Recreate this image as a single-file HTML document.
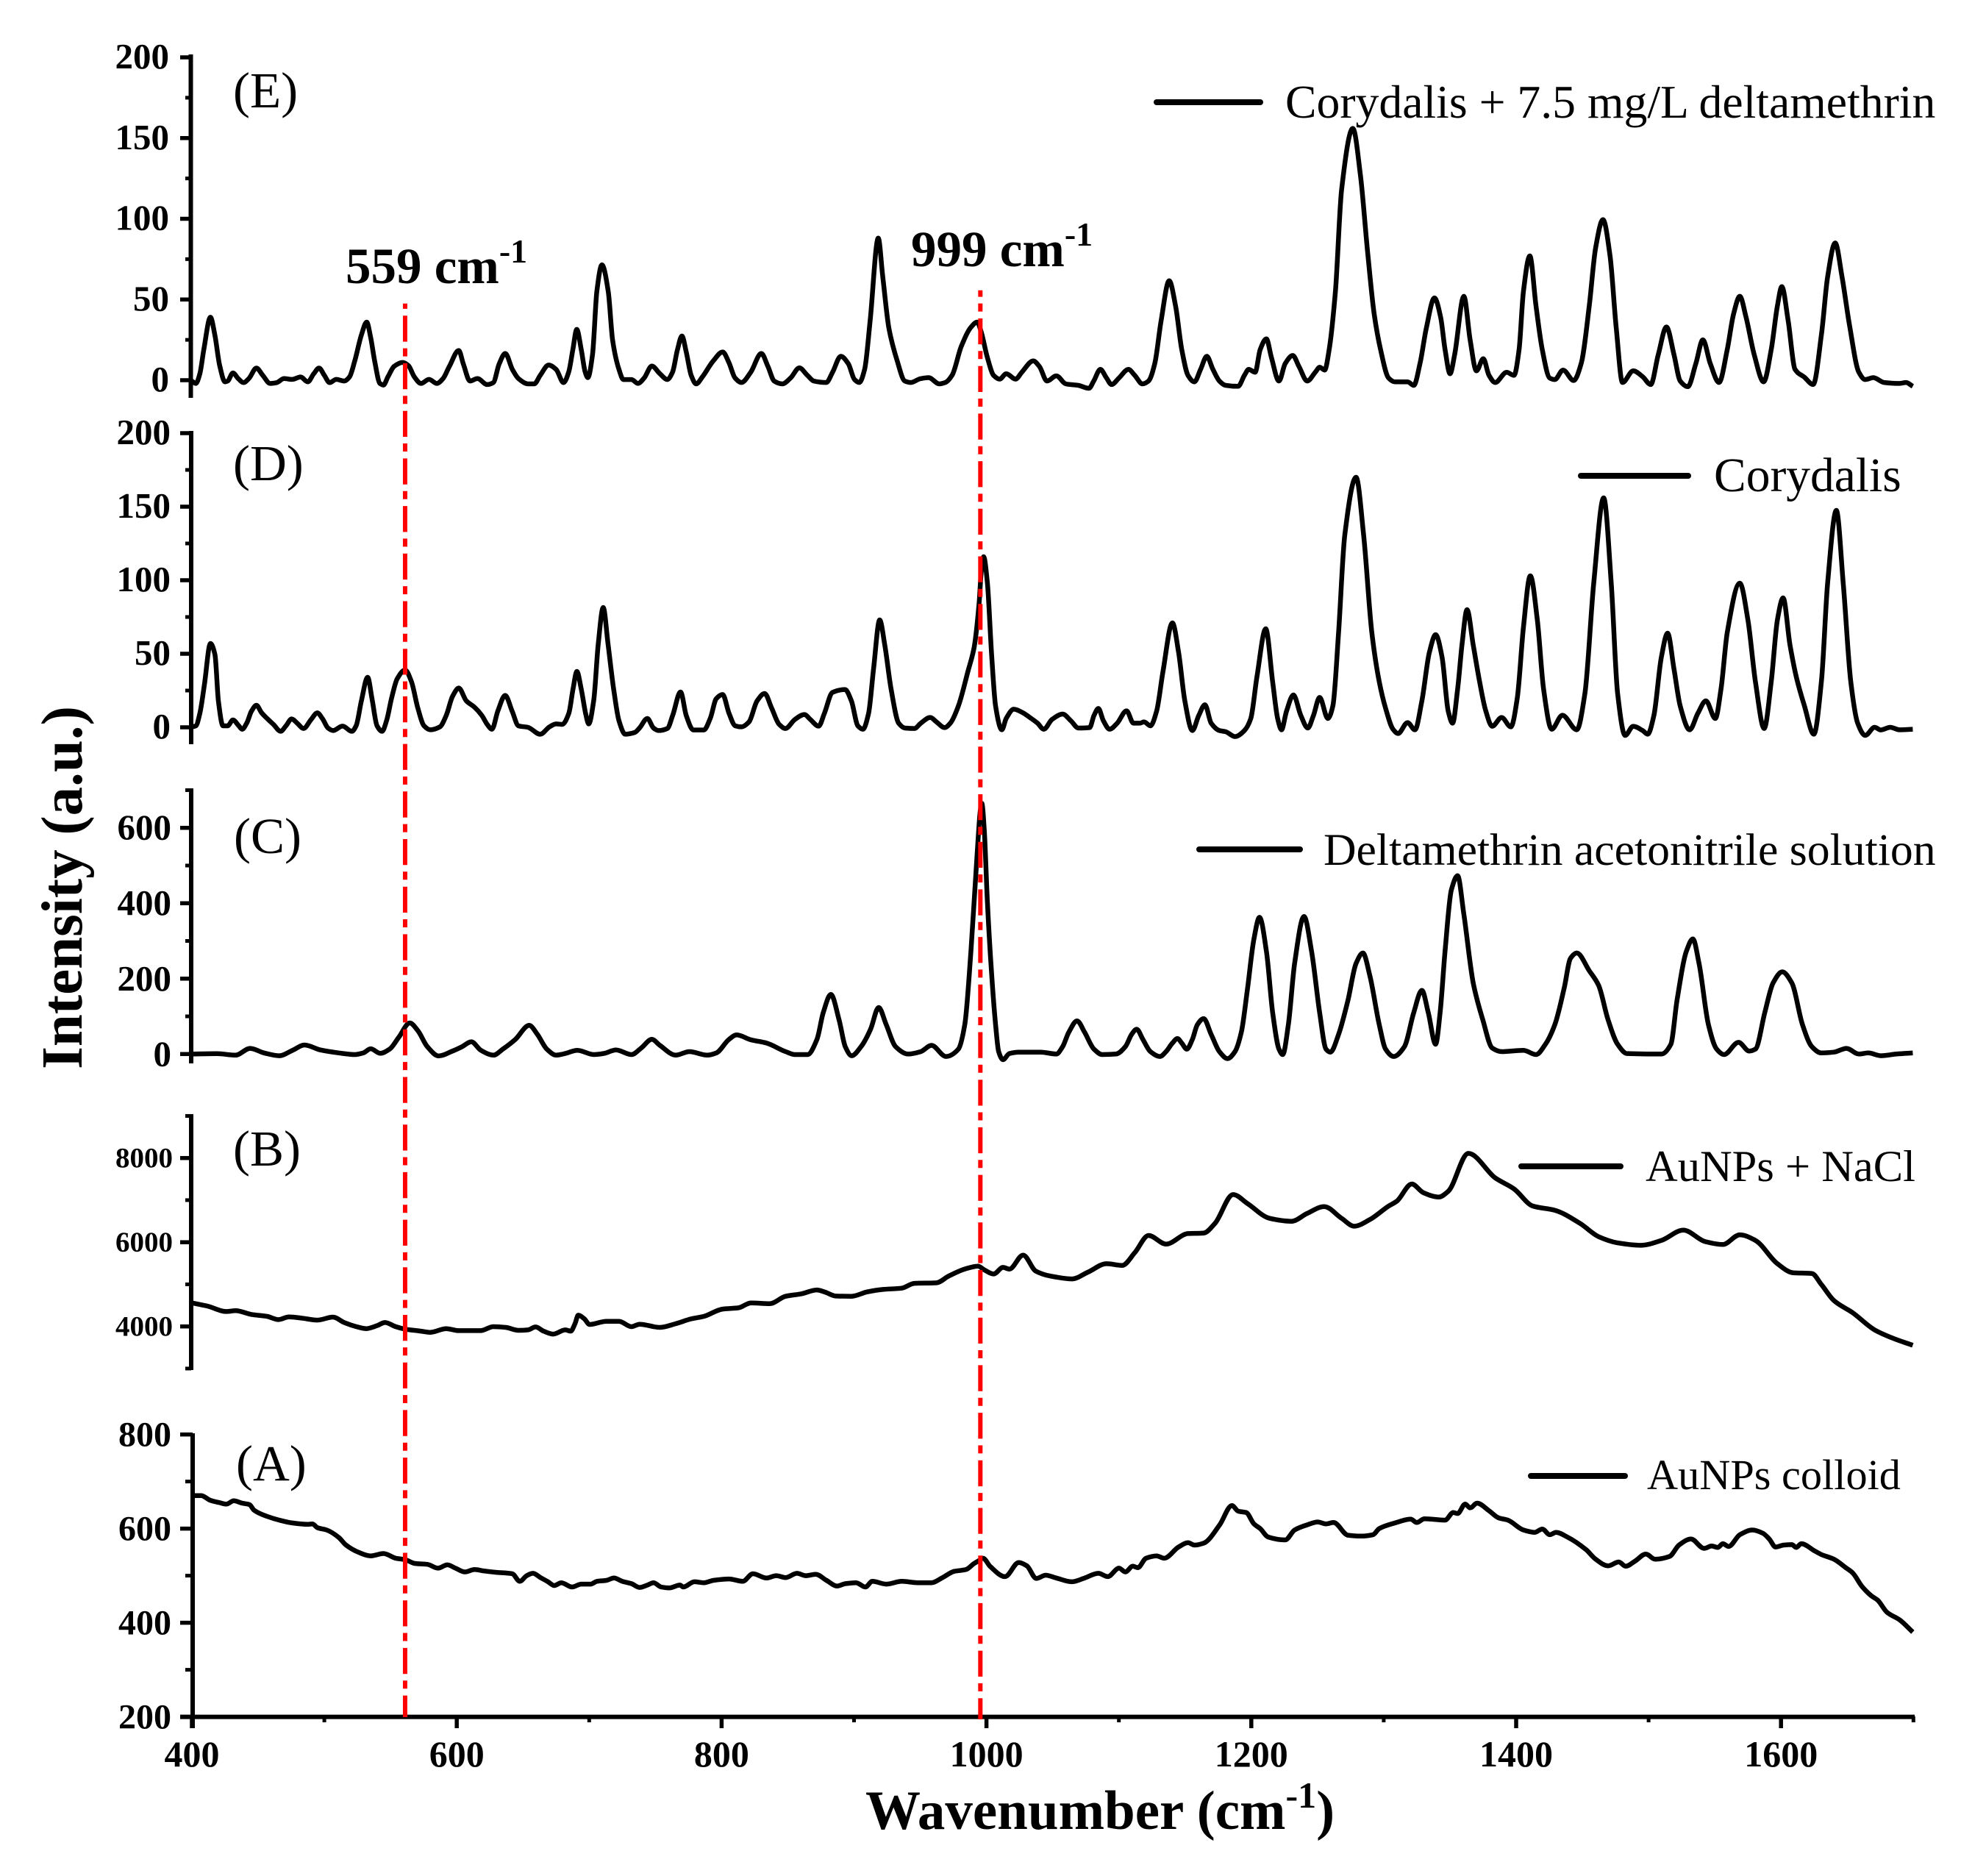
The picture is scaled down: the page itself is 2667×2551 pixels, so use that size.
<!DOCTYPE html>
<html lang="en">
<head>
<meta charset="utf-8">
<title>SERS spectra</title>
<style>
html,body{margin:0;padding:0;background:#fff}
svg{display:block}
text{font-family:"Liberation Serif","Times New Roman",serif;fill:#000}
.tick-label{font-weight:bold}
.panel-tag{font-size:69px}
.legend-text{font-size:62px}
.legend-line{stroke:#000;stroke-width:8;stroke-linecap:round}
.curve{fill:none;stroke:#000;stroke-width:6.5;stroke-linejoin:round;stroke-linecap:butt}
.axis{stroke:#000;fill:none}
.marker{stroke:#ff0000;stroke-width:6;stroke-dasharray:35.3 9 11 9.4;fill:none}
</style>
</head>
<body>
<svg id="chart" xmlns="http://www.w3.org/2000/svg" width="2667" height="2551" viewBox="0 0 2667 2551">
<rect width="2667" height="2551" fill="#fff"/>
<g id="panels"></g>
<g id="markers"></g>

<text class="panel-tag" x="317" y="146">(E)</text>
<text class="panel-tag" x="317" y="653">(D)</text>
<text class="panel-tag" x="318" y="1160">(C)</text>
<text class="panel-tag" x="317" y="1585">(B)</text>
<text class="panel-tag" x="321" y="2013">(A)</text>

<line class="legend-line" x1="1573" x2="1714" y1="139" y2="139"/>
<text class="legend-text" x="1748" y="160" style="font-size:63.7px">Corydalis + 7.5 mg/L deltamethrin</text>
<line class="legend-line" x1="2150" x2="2296" y1="647" y2="647"/>
<text class="legend-text" x="2331" y="668" style="font-size:65.5px">Corydalis</text>
<line class="legend-line" x1="1631" x2="1768" y1="1155" y2="1155"/>
<text class="legend-text" x="1800" y="1176" style="font-size:61.7px">Deltamethrin acetonitrile solution</text>
<line class="legend-line" x1="2069" x2="2204" y1="1586" y2="1586"/>
<text class="legend-text" x="2238" y="1606" style="font-size:60.5px">AuNPs + NaCl</text>
<line class="legend-line" x1="2082" x2="2210" y1="2007" y2="2007"/>
<text class="legend-text" x="2240" y="2025" style="font-size:58.3px">AuNPs colloid</text>

<text x="470" y="385" font-weight="bold" font-size="69">559 cm<tspan dy="-28" font-size="46">-1</tspan></text>
<text x="1239" y="362" font-weight="bold" font-size="69">999 cm<tspan dy="-28" font-size="46">-1</tspan></text>

<text transform="translate(111 1207) rotate(-90)" text-anchor="middle" font-weight="bold" font-size="79">Intensity (a.u.)</text>
<text x="1177" y="2487" font-weight="bold" font-size="75">Wavenumber (cm<tspan dy="-29" font-size="50">-1</tspan><tspan dy="29">)</tspan></text>
</svg>

<script>
const xMajorTicks = [400, 600, 800, 1000, 1200, 1400, 1600];
const xMinorTicks = [500, 700, 900, 1100, 1300, 1500, 1700];

const yMajorE = [0, 50, 100, 150, 200];
const yMinorE = [25, 75, 125, 175];
const yMajorD = [0, 50, 100, 150, 200];
const yMinorD = [25, 75, 125, 175];
const yMajorC = [0, 200, 400, 600];
const yMinorC = [100, 300, 500, 700];
const yMajorB = [4000, 6000, 8000];
const yMinorB = [3000, 5000, 7000, 9000];
const yMajorA = [200, 400, 600, 800];
const yMinorA = [300, 500, 700];

const markerWavenumbers = [561, 995.4];

const wavenumberE = [400,403,406,409,414,417.3,421,425,427,431,435,439,443,448.7,453.5,459,464,469.5,475.7,482,487.5,492,496,500,504,509,515,519,523,528,532,535,538,542,544.6,548,552.6,559,563.5,568,573,579,585,589.6,594.4,601.5,605,610,615.6,623,627.6,632,636.6,642,646.6,654,658.5,663,669.4,675,680.7,684.5,687.7,690.6,694,697,699,702.5,705.8,709.6,714.4,717.7,722.5,725.8,732,736.8,741.5,747.3,753.4,759,762.9,766.7,770,773.3,777,780.8,785.6,793.7,800.8,805.5,810.2,815,822,830,835,839.7,845.9,852,858.7,864.8,869.6,879,883.8,890,895.6,900.4,904,908,912.2,918.3,921.7,926.4,932.6,938.3,943,950,956.3,964.4,969,974,981,988.3,993,996,1000.7,1005.4,1010,1014.9,1022,1026.7,1035.3,1040,1045.7,1052.8,1059.9,1069.4,1077.4,1081,1086,1090.7,1094.5,1100,1107.2,1112,1117.7,1122.4,1127.1,1131.9,1138,1142.8,1147.5,1152.2,1157,1161.7,1166.4,1171,1175.9,1180.6,1190,1194.8,1198,1202.9,1206.7,1211.4,1215.2,1220.9,1225.6,1231.3,1236,1242.2,1248.3,1251.6,1255.4,1258.8,1263.5,1268.2,1276.7,1282.4,1288.1,1292.8,1297.6,1303.7,1308.5,1318,1322.7,1327.4,1332.1,1338.3,1343,1346.3,1350.1,1353.5,1360.5,1365.3,1370,1375.2,1379.5,1384.2,1392.8,1398.4,1402.2,1405.5,1410.3,1415,1419.7,1425.4,1429.2,1435.4,1443.4,1449.1,1455.2,1460,1465.6,1470.9,1475.6,1480.3,1488.4,1495.5,1501.6,1507.3,1513.5,1519.2,1523.9,1529.6,1535.7,1541,1546.6,1553.2,1559.4,1564.2,1568.9,1573.6,1579.8,1586.9,1592.6,1597.3,1600.6,1605.4,1610.6,1617.7,1624.3,1630.5,1635.2,1640.9,1646.1,1651.8,1658.8,1663.6,1669.7,1677.8,1689.6,1694.4,1699.5];
const intensityE = [-0.5,-2,4,19,39,28,9,-1,-0.5,4.5,1,-1.5,1,7.5,3,-2,-1.5,1,0.5,2,-1,4,7.5,3,-1.5,0.5,-0.5,2,12,28,36,26.5,12,-2,-3,2,8.5,11,9,2,-2,0.5,-2,1,8.5,18.4,10,-0.5,1,-2.7,-1.5,10,16.6,6.7,1,-2.3,-2.3,3,9.4,6.7,-1.5,5,19,31.5,19,5,1.6,15.7,55,71.5,55,24.7,6.7,0.4,0.4,-2,1.3,8.8,4,0.4,4.9,19,27.4,17.5,3,-2.3,2.2,12,17.5,11,1.3,-1.4,4.9,16.6,8.5,-0.5,-2.3,1.3,7.6,3,-0.5,-1.4,4.9,14.8,10.3,0.4,-1.4,6.7,37.3,88,64,32,12,-0.5,-1.4,0.9,1.6,-2.3,-1.4,3,21,32.8,36,30,14,3,0.7,4,0.7,4.9,12,8.5,-0.5,2.7,-2.3,-3.2,-5,-0.5,6.7,1.3,-2.7,1.3,6.7,3,-2.3,-0.5,10.3,37,61.6,46,19,3,-1,6.7,14.8,6.7,-0.5,-3.2,-3.8,3,6.7,4.9,19,25.6,14,-0.5,10.3,15.3,8.5,-0.5,4.9,8,6.3,19,55,118,156,127,77,41,19,1.3,-1,-1,-3.2,10.3,32,51,39,19,4,15.7,52,24.7,5.8,13.3,3,-1.4,4.9,3,19,55,77,46,19,1.3,0.4,6.3,-0.2,10.3,46,82,99.5,77,32,-1.4,5.8,2.2,-2.7,15.7,33,15.7,-0.5,-4,10.3,25,10.3,-1.4,19,41,52,39,15.7,-1,19,46,58,37,6.7,1.8,-2.7,28,64,85,64,33.7,4.9,0.4,1.6,-1.4,-2,-1.4,-3.8];

const wavenumberD = [400,403,406,409.3,414,417.4,420,423.5,427,431,435.4,438,441.5,445,448.7,452.5,456.8,461.5,467,471,475.3,479.5,484.3,490,494.7,498.5,502.8,506.6,513.7,520.8,524,528,532.7,536,539.8,543.6,547,550.7,555,561,565.8,570.6,575.3,580,587.3,592,596.8,601.5,607.2,613.4,619,623,626.6,631,636.6,641.8,646.6,653.7,663,670,675,679.7,684.6,687.8,690.7,694,697.3,699.6,703.4,706.8,710.6,714.3,718.7,722.5,727.2,734.4,738,743.9,748.6,752.4,759,763,769,773.3,778.6,786.6,791.4,796,800.8,805.6,810.3,815,820.7,826.8,832.5,837.8,843.5,848.2,855.3,862.5,867,873.3,877.6,883.7,893.2,898,902.9,906.7,911,914.7,919.4,923.2,928,933.7,938.5,945.6,950.4,957.5,962.2,968.4,972.7,978.8,986,990.7,994.5,996,997.9,1000.7,1004,1006.9,1011.6,1014.9,1020.6,1026.7,1033.8,1038.6,1043.3,1049.5,1057.5,1063.7,1069.4,1077.9,1081.2,1084.5,1088.3,1093,1098.7,1105.8,1111,1115.8,1119,1123.8,1128.5,1133.3,1140.4,1145.1,1149.8,1155.5,1160.3,1165,1169.7,1175.9,1180.6,1187.7,1194.8,1199.6,1204.3,1210.9,1216.1,1219.9,1222.8,1226.6,1231.8,1237.4,1242.7,1246.9,1251.6,1257.8,1261.6,1265.9,1270.6,1279.1,1284.8,1291,1296.6,1301.4,1307,1310.8,1318,1323.6,1328.8,1334.5,1339.2,1344,1348.7,1352,1355.8,1359.1,1362.9,1367.6,1372.4,1377.1,1381.9,1389,1396,1400.8,1405.5,1410.7,1416,1420.7,1426.8,1434.9,1445.8,1451.9,1458.6,1466.1,1471.8,1476.6,1482.3,1488.4,1495.5,1499.3,1504,1509.7,1514.4,1519.2,1523.9,1531,1537.2,1543.3,1550.4,1554.7,1559.4,1568.9,1575,1580.7,1587.3,1592.6,1597.3,1601.6,1606.8,1611.5,1617.7,1624.8,1630.5,1635.2,1641.8,1647,1652.7,1657.9,1663.6,1670.7,1675.4,1682.5,1689.6,1699.5];
const intensityD = [0.3,1,9.5,28,57,49.5,18,1,1,5,1,-1.3,3,11,15,10,6,2,-2.7,1,5.7,2.8,-0.8,5.3,9.8,6,-0.5,-2.2,0.8,-2.7,1,18,34,19.5,1,-2.7,4.5,19.5,33,39,31,13,1,-1.7,0.3,8,21,26.7,18,13.7,8,2,-1.3,11,21.7,11,1,0,-4.7,0.3,2.3,2,9.5,26,38,26,9.5,2.3,18,56,81.5,56,24.5,4.5,-4.7,-3.5,-0.5,6,-0.5,-2.2,-0.8,8,24,8,-1.8,-1.8,6,19.5,22.3,9.5,1,0.3,3.7,18,23,13,2,-0.8,5.3,8.7,5.3,0.8,9.5,23.7,25.7,18,1,-1.3,9.5,39.5,73,56,26,2.8,-0.5,-0.8,2.8,6.7,3.7,-0.2,2.8,14.5,38,54.5,85,105,116,98,48,14.5,-1.7,6,12.3,10.3,6,2.8,-1.3,5.3,9,4.5,-0.5,-0.2,8,12.8,4.5,-1.3,2.8,11.2,2.8,2.8,3.7,1,11,38,71,51,18,-2.2,8,15.3,2.8,-2.2,-3,-6.3,-2.2,6,34.5,67,31,6,-1.7,11,22,8,-0.5,8,20.3,6,14.5,64.5,131,170,131,64.5,31,13,-1.3,-4.2,3.2,-1.7,18,51,63,48,11,2.8,26,56,80,56,31,11,0.7,6.7,0.3,19.5,68,103,73,26,-1.3,8.2,-1.7,23,98,156,98,23,-5.5,0.7,-2.2,-4.7,8,48,64,39.5,14.5,-1.7,9.5,18,6,26,64.5,98,73,31,-0.8,31,73,88,56,34.5,14.5,-4.7,31,98,147.5,98,31,2.8,-5.5,0,-1.8,0,-1.7,-1.3];

const wavenumberC = [400,419,433,444,454.5,466,476,485,497,511,523.2,529.4,535,542.2,549.3,556.4,564.5,570.6,577.8,586.3,596.7,604,611,618.2,627.7,634.8,644.3,654.7,660.9,668,675,682.4,691,703.6,710.8,720.2,732,739.3,747.3,753.4,765.3,775.7,789,796,805.6,811.3,822.2,834,848.3,855.4,864.9,872,876.8,882.5,888.7,893.4,898.2,905.3,912.4,918.6,924.3,931.4,940.9,950.4,958.5,969.4,978.8,983.6,988.3,993,995.5,996.5,998.3,1000.7,1004,1006.9,1009.2,1012.5,1017.3,1024.4,1041,1052.8,1057.5,1062.3,1068.4,1074,1081.2,1087.4,1097.8,1104.9,1109.6,1113.4,1118.1,1123.8,1131,1135.6,1140.4,1144.2,1147.5,1151.3,1155.5,1159.3,1164,1169.7,1175.9,1182,1187.7,1192.5,1197.2,1202,1206.2,1211.4,1216.1,1220.9,1223.7,1228,1232.7,1239.8,1245.5,1251.6,1256.4,1259.7,1265.9,1273,1279.1,1284.3,1289.5,1296.6,1301.4,1307.5,1315.6,1322.7,1328.8,1333.6,1339.2,1342.6,1346.3,1351.1,1355.8,1360.5,1367.6,1374.8,1381.9,1389,1405.5,1415,1422.1,1429.2,1436.3,1441,1445.8,1455.2,1462.3,1469.4,1476.6,1483.7,1509.7,1516.8,1521.5,1528.6,1533.4,1538.1,1545.2,1551.4,1557,1567.9,1576,1580.7,1587.8,1594,1601,1608.2,1616.2,1623.3,1630.4,1639.9,1649.4,1658.8,1665.9,1675.4,1687.2,1699.5];
const intensityC = [0,1,-3,15,3,-4.5,10,24,11,3,-1.3,3,14,2,13,45.5,82.6,62,19.5,-5,7.8,19.5,32.5,10,-3,13,39,76,52,13,-3,2,10,-1.3,1.3,11,-1.3,16,39,23,-3,6.5,-3,3,39,50.7,37.7,29,6.5,-1.3,-1.3,39,110.5,158,91,19.5,-4.5,19.5,65,123.5,78,19.5,0,6.5,23,-6.5,13,78,273,533,650,665,598,403,208,78,6.5,-15,1.3,5,5,0,19.5,58.5,88,58.5,13,-1.3,0,19.5,52,66,39,6.5,-6.5,6.5,29,41,29,13,39,78,94,52,6.5,-12,6.5,58.5,175.5,305.5,362.7,273,110.5,13,-1.3,78,240.5,365,273,110.5,13,5,52,143,240.5,268,208,78,13,-6.5,19.5,110.5,169,110.5,26,110.5,273,435.5,473,370.5,188.5,91,16,6.5,10,-1.3,26,78,175.5,253.5,268,221,182,91,26,1.3,0,26,143,273,305.5,240.5,78,13,-1.3,31,7.8,13,110.5,188.5,218,188.5,78,19.5,3,5,15,0,3,-4.5,0,3];

const wavenumberB = [400,411.7,425.9,433,445,456.8,465.3,473.3,482.8,494.7,506.5,515,523,531.6,539.7,545.8,553.9,561,572.9,580,592,601.5,618,627.6,637,646.7,653.8,659.5,665.6,672.8,682,686,689.3,691.7,696.4,700.2,713,722.5,732,738,753.4,765.3,777,786.6,800.8,812.7,822.2,836.4,848.3,860.1,872,877.7,886.3,898,910,921.8,936,945.6,962.2,971.6,983.5,993.6,998.3,1005.4,1012.5,1017.3,1027.7,1037.2,1048,1064.6,1076.5,1090.7,1102.5,1112,1122.4,1135.6,1152.2,1164,1172.6,1186.3,1197.2,1213.8,1230.3,1242.2,1255,1268.2,1277.7,1289.5,1303.7,1309.9,1321.2,1329.8,1341.6,1348.7,1363.9,1384.2,1398.4,1412.6,1429.2,1448.1,1462.3,1476.6,1494.1,1509.7,1526.2,1542.8,1556.1,1568.9,1580.7,1597.3,1609.1,1623.3,1630.5,1639.9,1654.1,1670.7,1684.9,1699.5];
const intensityB = [4559,4483,4355,4373,4285,4239,4163,4227,4198,4151,4221,4093,4006,3948,4017,4093,3994,3936,3889,3860,3948,3901,3901,3994,3977,3907,3918,3988,3889,3819,3918,3889,4064,4268,4180,4047,4122,4122,3994,4052,3977,4064,4180,4239,4413,4442,4559,4541,4716,4774,4867,4821,4722,4716,4821,4879,4908,5024,5036,5199,5362,5432,5345,5246,5403,5362,5694,5316,5199,5129,5287,5490,5450,5752,6160,5956,6206,6218,6451,7132,6917,6567,6498,6684,6847,6567,6381,6538,6859,6975,7383,7179,7074,7208,8110,7528,7266,6859,6760,6451,6131,5985,5927,6043,6288,6014,5945,6177,6043,5490,5275,5258,4996,4617,4326,3918,3715,3552];

const wavenumberA = [400,402,407,414,421,426,431.6,438,443.5,447,456.8,466,475.7,487.5,491,494.7,501.8,511,516,525.6,535,544.6,554,561,568.3,577.8,585.8,592.9,599,606.2,613.4,620.5,630,641.9,647.6,652.8,657.5,663.2,668.9,673.7,678.9,687,694,701,705.9,713,718.7,725,732,738,743.9,748.6,754.3,760.5,768.6,771,779.5,786.6,793.7,805.6,816,823.6,834,841.2,848.3,856.9,863.5,871,879.2,887.2,893.4,901.5,908.6,913.8,924.3,936.1,948,958.4,966.9,975.4,984.5,990.7,994.4,997.4,1003,1014,1024.4,1030.5,1037.6,1044.7,1052.8,1064.6,1074.1,1084.5,1091.6,1100.1,1104.9,1110.5,1114.3,1120.5,1128.5,1134.2,1145.1,1152.2,1157,1164,1175.9,1185.4,1190.1,1196.2,1202,1206.7,1212.8,1225.6,1232.7,1242.2,1250.2,1256.4,1262.1,1273,1282.4,1291.9,1296.6,1308.5,1320.3,1325,1330.7,1346.3,1352.5,1355.8,1361.5,1365.3,1370.5,1379.5,1386.6,1393.7,1405.5,1414,1419.7,1425.4,1430.1,1438.7,1452.9,1460,1469.4,1477.5,1482.7,1489.8,1497.9,1505,1515.9,1523,1532,1541.9,1547.6,1552.3,1556.1,1560.4,1568.9,1578.4,1586.4,1591.1,1595.9,1602,1608.2,1611.5,1615.3,1625.7,1630.4,1639.9,1649.4,1654.1,1661.2,1668.3,1673,1680.1,1689.6,1699.5];
const intensityA = [668,670,670,660,655,652,659,654,651,639,626,618,612,609,610,602,597,581,566,550,542,547,537,534,526,524,516,523,516,508,513,510,507,504,488,500,505,496,487,479,485,476,482,482,488,490,495,488,483,475,480,485,476,474,480,476,487,485,490,493,488,504,495,500,496,505,500,503,490,478,483,485,476,488,482,488,485,485,496,509,513,526,532,537,519,498,528,521,494,501,495,487,495,505,498,516,508,520,517,537,542,537,561,570,565,569,607,649,637,634,610,600,582,576,597,608,614,610,613,586,584,587,600,612,620,613,621,618,634,632,652,644,654,638,623,618,597,592,599,587,592,582,555,535,521,529,520,531,546,535,541,565,578,558,563,560,568,562,587,597,590,578,561,565,566,560,568,552,545,535,516,506,477,457,448,422,406,380];

const xScale = function (w) {
  return 261 + (w - 400) * 1.801;
};

function linearY(v0, p0, v1, p1) {
  return function (v) {
    return p0 + (v - v0) * (p1 - p0) / (v1 - v0);
  };
}

const SVG_NS = 'http://www.w3.org/2000/svg';

function makeSvg(tag, parent, attrs) {
  const el = document.createElementNS(SVG_NS, tag);
  Object.keys(attrs).forEach(function (k) { el.setAttribute(k, attrs[k]); });
  parent.appendChild(el);
  return el;
}

function monotonePath(px, py) {
  const n = px.length;
  const slope = [];
  for (let i = 0; i < n - 1; i++) {
    slope.push((py[i + 1] - py[i]) / (px[i + 1] - px[i]));
  }
  const tan = [slope[0]];
  for (let i = 1; i < n - 1; i++) {
    if (slope[i - 1] * slope[i] <= 0) {
      tan.push(0);
    } else {
      const h0 = px[i] - px[i - 1];
      const h1 = px[i + 1] - px[i];
      tan.push(3 * (h0 + h1) / ((2 * h1 + h0) / slope[i - 1] + (h1 + 2 * h0) / slope[i]));
    }
  }
  tan.push(slope[n - 2]);
  let d = 'M' + px[0].toFixed(1) + ' ' + py[0].toFixed(1);
  for (let i = 0; i < n - 1; i++) {
    const h = (px[i + 1] - px[i]) / 3;
    d += 'C' + (px[i] + h).toFixed(1) + ' ' + (py[i] + tan[i] * h).toFixed(1) + ' ' +
      (px[i + 1] - h).toFixed(1) + ' ' + (py[i + 1] - tan[i + 1] * h).toFixed(1) + ' ' +
      px[i + 1].toFixed(1) + ' ' + py[i + 1].toFixed(1);
  }
  return d;
}

function drawPanel(p) {
  const root = document.getElementById('panels');
  const g = makeSvg('g', root, {});
  
  

  const spine = makeSvg('line', g, {
    class: 'axis', x1: p.axisX, x2: p.axisX, y1: p.axisTop, y2: p.axisBottom, 'stroke-width': 6
  });
  
  

  p.major.forEach(function (v) {
    const t = makeSvg('line', g, {
      class: 'axis', x1: 245, x2: p.axisX, y1: p.y(v), y2: p.y(v), 'stroke-width': 5.5
    });
    
    

    const lab = makeSvg('text', g, {
      class: 'tick-label', x: p.labelX, y: p.y(v) + p.labelDy, 'text-anchor': 'end', 'font-size': p.labelSize
    });
    
    
    lab.textContent = String(v);
  });

  p.minor.forEach(function (v) {
    const t = makeSvg('line', g, {
      class: 'axis', x1: 252, x2: p.axisX, y1: p.y(v), y2: p.y(v), 'stroke-width': 5
    });
    
    
  });

  const curve = makeSvg('path', g, {
    class: 'curve',
    d: monotonePath(p.w.map(xScale), p.v.map(p.y))
  });
  
  
}

const yE = linearY(0, 517, 200, 78);
const yD = linearY(0, 989, 200, 589);
const yC = linearY(0, 1433.3, 600, 1125.7);
const yB = linearY(4000, 1803.7, 8000, 1574.7);
const yA = linearY(200, 2334.6, 800, 1950.6);

drawPanel({ id: 'e', y: yE, w: wavenumberE, v: intensityE, major: yMajorE, minor: yMinorE,
  axisX: 259.5, axisTop: 74, axisBottom: 541, labelX: 230, labelDy: 15, labelSize: 49 });
drawPanel({ id: 'd', y: yD, w: wavenumberD, v: intensityD, major: yMajorD, minor: yMinorD,
  axisX: 260, axisTop: 586, axisBottom: 1012, labelX: 232, labelDy: 15, labelSize: 49 });
drawPanel({ id: 'c', y: yC, w: wavenumberC, v: intensityC, major: yMajorC, minor: yMinorC,
  axisX: 260, axisTop: 1072, axisBottom: 1446, labelX: 233, labelDy: 16, labelSize: 49 });
drawPanel({ id: 'b', y: yB, w: wavenumberB, v: intensityB, major: yMajorB, minor: yMinorB,
  axisX: 260, axisTop: 1515, axisBottom: 1863, labelX: 235, labelDy: 13, labelSize: 39 });
drawPanel({ id: 'a', y: yA, w: wavenumberA, v: intensityA, major: yMajorA, minor: yMinorA,
  axisX: 262, axisTop: 1949, axisBottom: 2350, labelX: 233, labelDy: 16, labelSize: 48 });

const panelsRoot = document.getElementById('panels');
const xAxisGroup = makeSvg('g', panelsRoot, {});



const xAxisLine = makeSvg('line', xAxisGroup, {
  class: 'axis', x1: 245, x2: 2604, y1: 2334.6, y2: 2334.6, 'stroke-width': 6
});



xMajorTicks.forEach(function (w) {
  const t = makeSvg('line', xAxisGroup, {
    class: 'axis', x1: xScale(w), x2: xScale(w), y1: 2334, y2: 2350, 'stroke-width': 5.5
  });
  
  

  const lab = makeSvg('text', xAxisGroup, {
    class: 'tick-label', x: xScale(w), y: 2402, 'text-anchor': 'middle', 'font-size': 50
  });
  
  
  lab.textContent = String(w);
});

xMinorTicks.forEach(function (w) {
  const t = makeSvg('line', xAxisGroup, {
    class: 'axis', x1: xScale(w), x2: xScale(w), y1: 2334, y2: 2342, 'stroke-width': 5
  });
  
  
});

const markerGroup = document.getElementById('markers');
const markerTops = [412.7, 394.7];
const markerBottoms = [2335, 2338];
const markerPhases = [48.1, 26.4];

markerWavenumbers.forEach(function (w, i) {
  const line = makeSvg('line', markerGroup, {
    class: 'marker',
    x1: xScale(w),
    x2: xScale(w),
    y1: markerTops[i],
    y2: markerBottoms[i],
    'stroke-dashoffset': markerPhases[i]
  });
  
  
});
</script>
</body>
</html>
